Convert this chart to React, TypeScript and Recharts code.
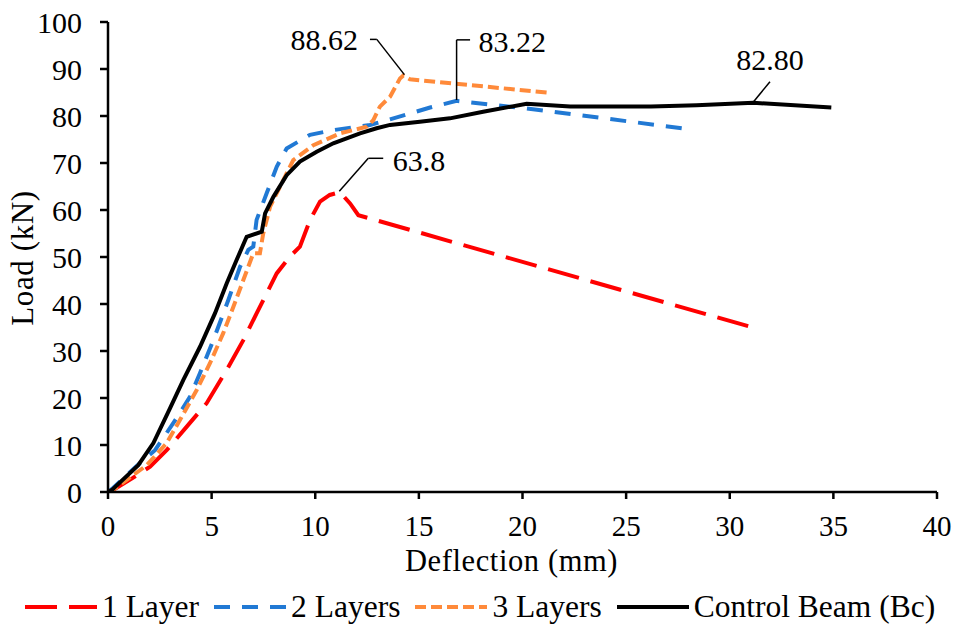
import React from 'react'
import {
  LineChart,
  Line,
  XAxis,
  YAxis,
  Label,
  ReferenceLine,
  ReferenceDot
} from 'recharts'

const FONT = '"Liberation Serif", "Times New Roman", serif'

// deflection (mm) / load (kN)
const layer1X = [0, 0.2, 1.2, 2.03, 2.83, 3.8, 4.76, 5.73, 6.53, 7.17, 8.14, 8.78, 9.26, 9.75, 10.23, 10.7, 11.19, 11.68, 12.08, 31.2]
const layer1Y = [0, 0.3, 3.0, 5.4, 8.9, 13.9, 18.9, 26.0, 32.3, 38.0, 46.5, 50.1, 52.2, 57.9, 61.8, 63.2, 63.8, 61.4, 58.9, 34.9]

const layer2X = [0, 0.18, 1.7, 2.27, 3.31, 3.96, 4.44, 5.08, 5.81, 6.37, 6.77, 7.01, 7.17, 7.66, 8.14, 8.62, 9.75, 10.87, 12.64, 13.77, 15.54, 16.82, 20.2, 27.7]
const layer2Y = [0, 0.6, 6.8, 8.9, 15.7, 20.3, 25.3, 32.3, 40.9, 47.9, 51.5, 52.2, 57.9, 63.6, 69.2, 73.1, 76.0, 77.0, 78.1, 79.5, 81.8, 83.22, 81.6, 77.4]

const layer3X = [0, 0.2, 1.87, 2.83, 3.47, 4.28, 4.92, 5.56, 6.05, 6.53, 7.01, 7.33, 7.49, 7.82, 8.3, 8.94, 9.91, 11.19, 12.48, 12.8, 13.12, 13.61, 14.09, 14.25, 14.57, 21.17]
const layer3Y = [0, 0.3, 5.7, 10.4, 15.3, 21.7, 27.4, 33.8, 39.4, 45.1, 50.8, 50.8, 55.0, 60.7, 65.0, 70.6, 73.8, 76.3, 77.7, 79.1, 82.0, 84.1, 88.0, 88.62, 87.8, 85.0]

const controlX = [0, 0.18, 1.46, 2.19, 2.99, 3.63, 4.44, 5.16, 5.73, 6.21, 6.69, 7.42, 7.58, 7.98, 8.62, 9.26, 10.07, 10.87, 12.16, 12.96, 13.61, 15.05, 16.5, 18.1, 20.2, 22.3, 26.2, 28.4, 31.14, 34.9]
const controlY = [0, 0.4, 5.7, 10.4, 17.8, 23.8, 30.9, 38.0, 44.4, 49.4, 54.3, 55.4, 59.3, 62.8, 67.4, 70.3, 72.4, 74.2, 76.3, 77.4, 78.1, 78.8, 79.5, 80.9, 82.6, 82.0, 82.0, 82.3, 82.8, 81.8]

const xTicks = [0, 5, 10, 15, 20, 25, 30, 35, 40]
const yTicks = [0, 10, 20, 30, 40, 50, 60, 70, 80, 90, 100]

// peak labels: text position and leader line path (data units)
const peakLabels = [
  { text: '88.62', at: [10.43, 96.2], path: [[12.64, 96.3], [12.97, 96.3], [14.3, 88.8]] },
  { text: '83.22', at: [19.5, 95.8], path: [[17.47, 96.2], [16.82, 96.2], [16.82, 83.4]] },
  { text: '63.8', at: [15.0, 70.6], path: [[13.28, 71.0], [12.56, 71.0], [11.16, 64.0]] },
  { text: '82.80', at: [31.94, 92.1], path: [[31.94, 87.3], [31.14, 83.0]] }
]

const toPoints = (xs: number[], ys: number[]) => xs.map((x, i) => ({ x, y: ys[i] }))

const series = [
  { name: '1 Layer', data: toPoints(layer1X, layer1Y), color: '#FF0000', dash: '32 12' },
  { name: '2 Layers', data: toPoints(layer2X, layer2Y), color: '#2179D4', dash: '16 12' },
  { name: '3 Layers', data: toPoints(layer3X, layer3Y), color: '#FF8A3A', dash: '11 5' },
  { name: 'Control Beam (Bc)', data: toPoints(controlX, controlY), color: '#000000', dash: undefined }
]

export default function App() {
  return (
    <div style={{ position: 'absolute', left: 0, top: 0, width: 955, height: 625, background: '#fff' }}>
      <LineChart width={955} height={625} margin={{ top: 22, right: 18, bottom: 0, left: 0 }}>
        <XAxis
          type="number"
          dataKey="x"
          domain={[0, 40]}
          ticks={xTicks}
          allowDataOverflow
          height={133}
          stroke="#000"
          strokeWidth={2.5}
          tickSize={7}
          tickMargin={16}
          tick={{ fill: '#000', fontSize: 29, fontFamily: FONT }}
        >
          <Label
            content={({ viewBox }: any) => (
              <text
                x={viewBox.x + viewBox.width / 2 - 11}
                y={viewBox.y + 79}
                textAnchor="middle"
                fontSize={30.5}
                letterSpacing={0.6}
                fontFamily={FONT}
                fill="#000"
              >
                Deflection (mm)
              </text>
            )}
          />
        </XAxis>
        <YAxis
          type="number"
          dataKey="y"
          domain={[0, 100]}
          ticks={yTicks}
          allowDataOverflow
          width={108}
          stroke="#000"
          strokeWidth={2.5}
          tickSize={8}
          tickMargin={18}
          tick={{ fill: '#000', fontSize: 30, fontFamily: FONT }}
        >
          <Label
            content={() => (
              <text
                x={33}
                y={258}
                transform="rotate(-90, 33, 258)"
                textAnchor="middle"
                fontSize={31}
                letterSpacing={0.6}
                fontFamily={FONT}
                fill="#000"
              >
                Load (kN)
              </text>
            )}
          />
        </YAxis>
        {series.map((s) => (
          <Line
            key={s.name}
            data={s.data}
            dataKey="y"
            name={s.name}
            type="linear"
            stroke={s.color}
            strokeWidth={4}
            strokeDasharray={s.dash}
            dot={false}
            activeDot={false}
            isAnimationActive={false}
          />
        ))}
        {peakLabels.map((p) =>
          p.path.slice(1).map((pt, i) => (
            <ReferenceLine
              key={`${p.text}-${i}`}
              segment={[
                { x: p.path[i][0], y: p.path[i][1] },
                { x: pt[0], y: pt[1] }
              ]}
              stroke="#000"
              strokeWidth={1.5}
              ifOverflow="visible"
            />
          ))
        )}
        {peakLabels.map((p) => (
          <ReferenceDot
            key={p.text}
            x={p.at[0]}
            y={p.at[1]}
            r={0}
            ifOverflow="visible"
            shape={(props: any) => (
              <text
                x={props.cx}
                y={props.cy}
                textAnchor="middle"
                dominantBaseline="central"
                fontSize={30}
                fontFamily={FONT}
                fill="#000"
              >
                {p.text}
              </text>
            )}
          />
        ))}
      </LineChart>
      <div
        style={{
          position: 'absolute',
          left: 25,
          top: 589,
          display: 'flex',
          alignItems: 'center',
          fontFamily: FONT,
          fontSize: 31.5,
          lineHeight: '36px',
          color: '#000',
          whiteSpace: 'nowrap'
        }}
      >
        {series.map((s) => (
          <div key={s.name} style={{ display: 'flex', alignItems: 'center', marginRight: 15 }}>
            <svg width={72} height={10} style={{ marginRight: 5 }}>
              <line x1={0} y1={5} x2={72} y2={5} stroke={s.color} strokeWidth={4} strokeDasharray={s.dash} />
            </svg>
            <span>{s.name}</span>
          </div>
        ))}
      </div>
    </div>
  )
}
